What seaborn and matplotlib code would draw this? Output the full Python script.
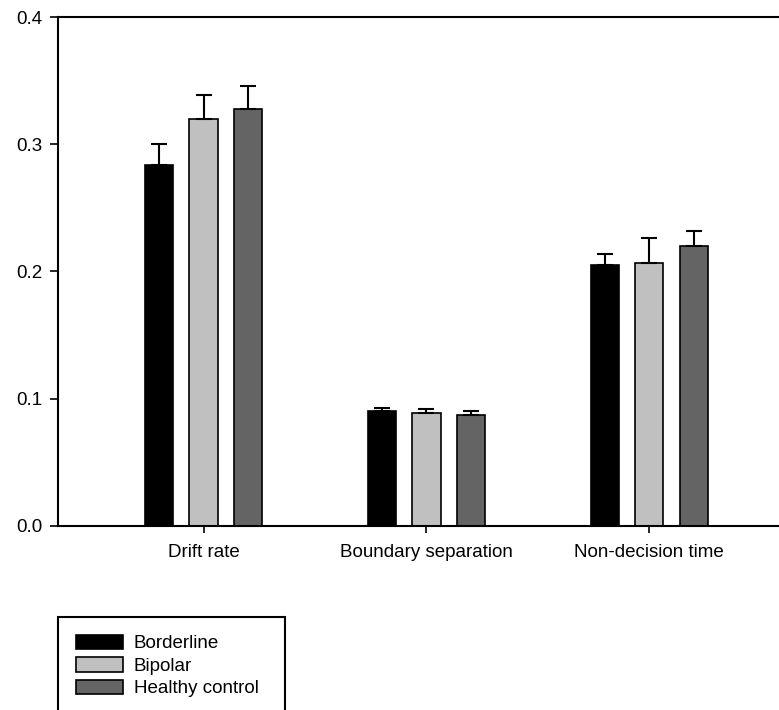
import matplotlib
matplotlib.use("Agg")
import matplotlib.pyplot as plt
import numpy as np
import pandas as pd
import seaborn as sns
from matplotlib.patches import Patch
from matplotlib.ticker import MultipleLocator

# values
params = ["Drift rate", "Boundary separation", "Non-decision time"]
groups = ["Borderline", "Bipolar", "Healthy control"]
borderline = [0.284, 0.090, 0.205]
bipolar = [0.320, 0.089, 0.207]
healthy = [0.328, 0.087, 0.220]
borderline_err = [0.016, 0.003, 0.009]
bipolar_err = [0.019, 0.003, 0.019]
healthy_err = [0.018, 0.003, 0.012]

colors = ["#000000", "#c0c0c0", "#646464"]

sns.set_style("ticks")
plt.rcParams['font.family'] = ['Liberation Sans', 'DejaVu Sans']
plt.rcParams['text.color'] = 'black'

df = pd.DataFrame({
    "param": params * 3,
    "group": [g for g in groups for _ in params],
    "value": borderline + bipolar + healthy,
})
errs = [borderline_err, bipolar_err, healthy_err]

fig = plt.figure(figsize=(7.79, 7.10), dpi=100)
ax = fig.add_axes([58 / 779, 184 / 710, 1 - 58 / 779 + 0.01, 509 / 710])

sns.barplot(data=df, x="param", y="value", hue="group", order=params, hue_order=groups,
            palette=colors, width=0.6, gap=0.365, errorbar=None, edgecolor="black",
            linewidth=1.2, legend=False, ax=ax)

# upward-only error bars on top of each bar
for cont, err in zip(ax.containers, errs):
    xs = [b.get_x() + b.get_width() / 2 for b in cont]
    ys = [b.get_height() for b in cont]
    ax.errorbar(xs, ys, yerr=[np.zeros(len(err)), err], fmt="none", ecolor="black",
                elinewidth=1.5, capsize=5.5, capthick=1.5, zorder=3)

ax.set_xlim(-0.653, 2.617)
ax.set_ylim(0, 0.4)
ax.yaxis.set_major_locator(MultipleLocator(0.1))
ax.set_xlabel("")
ax.set_ylabel("")

for s in ["left", "top", "bottom"]:
    ax.spines[s].set_linewidth(1.5)
    ax.spines[s].set_color("black")
ax.spines["right"].set_visible(False)

ax.tick_params(axis="y", direction="out", length=6, width=1.2, pad=5, labelsize=13.5, colors="black")
ax.tick_params(axis="x", direction="out", length=5, width=1.2, pad=8, labelsize=13.5, colors="black")

handles = [Patch(facecolor=c, edgecolor="black", linewidth=1.2) for c in colors]
leg = fig.legend(handles, groups, loc="upper left",
                 bbox_to_anchor=(58 / 779, 1 - 617 / 710, 227 / 779, 0.0),
                 mode="expand", frameon=True, fancybox=False, edgecolor="black", framealpha=1,
                 fontsize=13.5, handlelength=2.5, handleheight=0.8, handletextpad=0.6,
                 labelspacing=0.25, borderpad=0.95, borderaxespad=0, labelcolor="black")
leg.get_frame().set_linewidth(1.5)

plt.savefig("out.png", dpi=100)
